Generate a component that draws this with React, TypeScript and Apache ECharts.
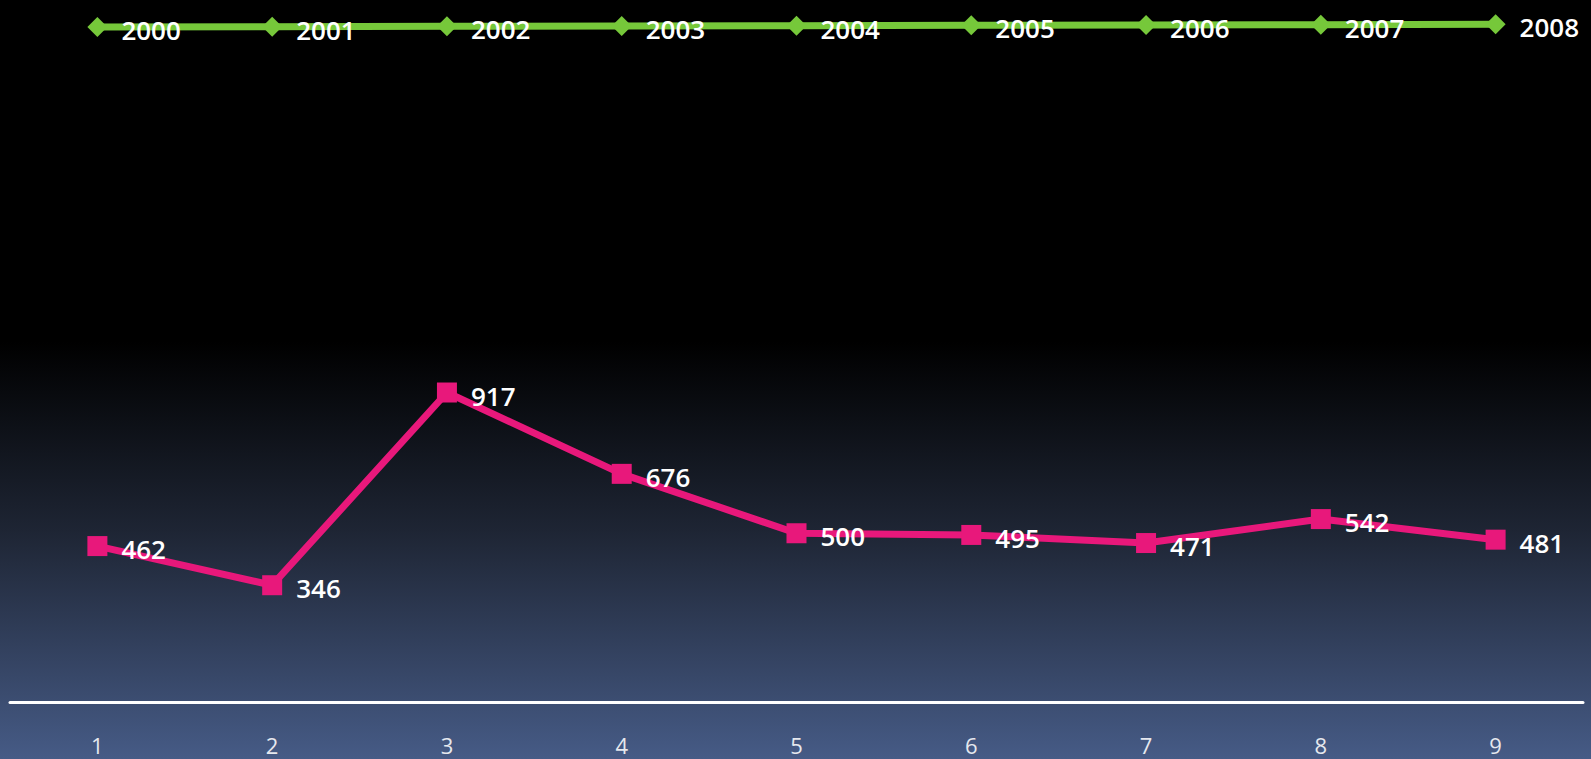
import React, { useEffect, useRef } from "react";
import * as echarts from "echarts";

const categories = ["1", "2", "3", "4", "5", "6", "7", "8", "9"];
const yearValues = [2000, 2001, 2002, 2003, 2004, 2005, 2006, 2007, 2008];
const countValues = [462, 346, 917, 676, 500, 495, 471, 542, 481];

export default function App() {
  const ref = useRef<HTMLDivElement>(null);
  useEffect(() => {
    document.body.style.margin = "0";
    const chart = echarts.init(ref.current!, null, { renderer: "svg" });
    const labelStyle = {
      show: true,
      position: "right",
      distance: 14,
      offset: [0, 3],
      color: "#ffffff",
      fontFamily: "Open Sans",
      fontWeight: 600,
      fontSize: 26,
    };
    chart.setOption({
      animation: false,
      backgroundColor: new echarts.graphic.LinearGradient(0, 0, 0, 1, [
        { offset: 0, color: "#000000" },
        { offset: 0.45, color: "#000000" },
        { offset: 0.7, color: "#1e2534" },
        { offset: 1, color: "#465b86" },
      ]),
      grid: { left: 10, right: 8, top: 0, bottom: 57, containLabel: false },
      xAxis: {
        type: "category",
        data: categories,
        boundaryGap: true,
        axisLine: { show: true, lineStyle: { color: "#ffffff", width: 3 } },
        axisTick: { show: false },
        axisLabel: {
          color: "#e6e8ee",
          fontFamily: "Open Sans",
          fontSize: 22,
          margin: 32,
        },
      },
      yAxis: {
        type: "value",
        min: 0,
        max: 2080,
        show: false,
        splitLine: { show: false },
      },
      series: [
        {
          name: "Year",
          type: "line",
          data: yearValues,
          symbol: "diamond",
          symbolSize: 20,
          lineStyle: { color: "#76c83a", width: 7 },
          itemStyle: { color: "#76c83a" },
          label: labelStyle,
        },
        {
          name: "Value",
          type: "line",
          data: countValues,
          symbol: "rect",
          symbolSize: 20,
          lineStyle: { color: "#e8187b", width: 7 },
          itemStyle: { color: "#e8187b" },
          label: labelStyle,
        },
      ],
    });
    return () => chart.dispose();
  }, []);
  return (
    <div
      ref={ref}
      style={{ position: "fixed", left: 0, top: 0, width: 1591, height: 759 }}
    />
  );
}
